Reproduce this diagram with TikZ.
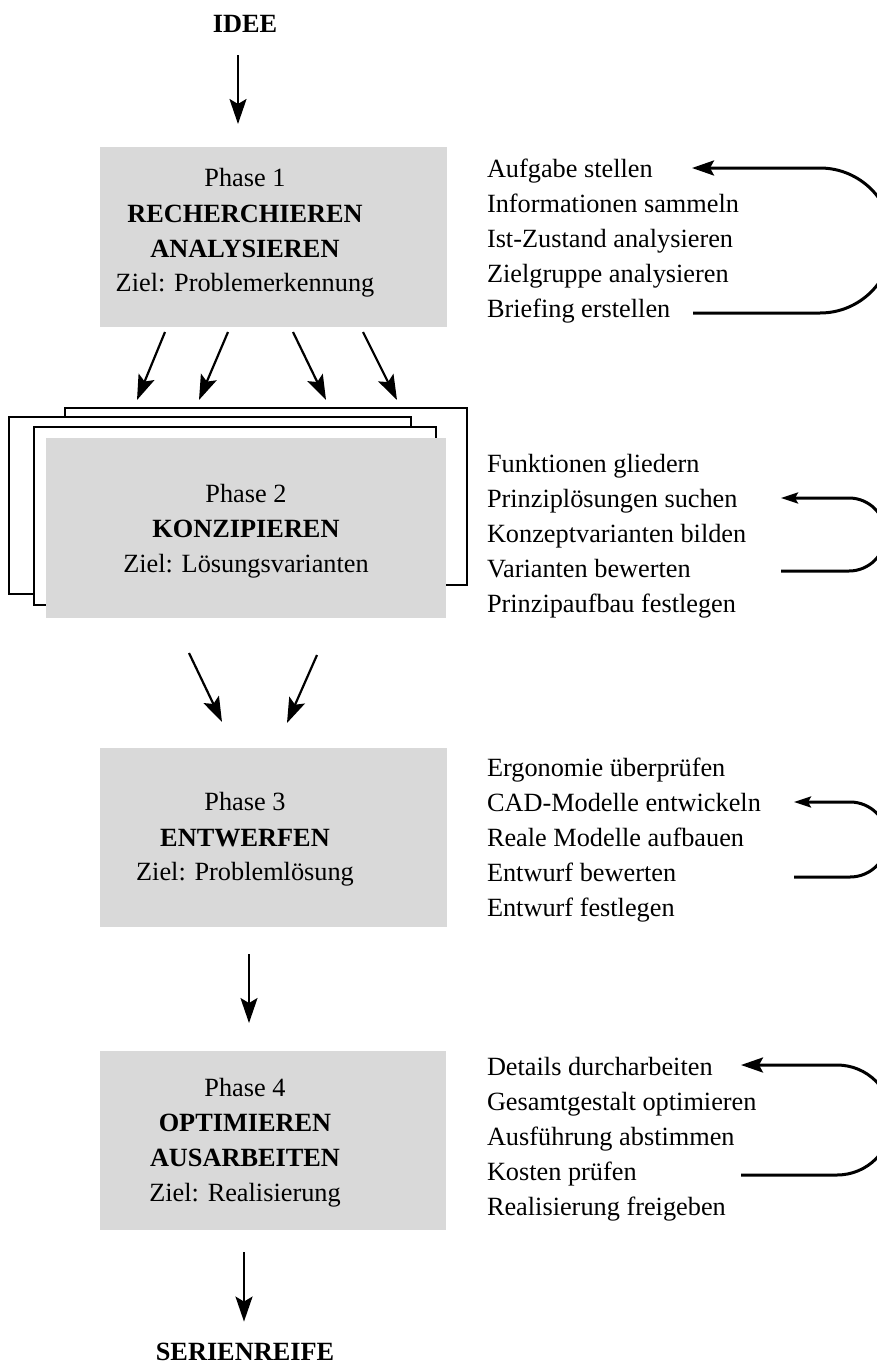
\documentclass[tikz,border=0pt]{standalone}
\usepackage{fontspec}
\setmainfont{Liberation Serif}
\usetikzlibrary{arrows.meta,calc}
\definecolor{boxgray}{RGB}{217,217,217}

\begin{document}
\begin{tikzpicture}[x=1pt,y=-1pt,
  every node/.style={inner sep=0pt, outer sep=0pt},
  txt/.style={anchor=base, font=\fontsize{26.3}{35}\selectfont},
  ttl/.style={anchor=base, font=\fontsize{26.3}{35}\selectfont\bfseries},
  item/.style={anchor=base west, font=\fontsize{26.3}{35}\selectfont},
  phasebox/.style={fill=boxgray, minimum width=347pt, minimum height=180pt},
  sheet/.style={draw, fill=white, line width=2pt, minimum width=402pt, minimum height=177pt},
  flow/.style={line width=2.2pt, -{Stealth[length=25pt,width=17pt,inset=5pt]}},
  loopbig/.style={line width=3pt, -{Stealth[length=22pt,width=15pt,inset=4pt]}},
  loopsmall/.style={line width=3pt, -{Stealth[length=17pt,width=11pt,inset=3pt]}},
]
\clip (0,0) rectangle (877,1365);

% start and end labels
\node[ttl] (idee) at (245,32) {IDEE};
\node[ttl] (serie) at (245,1360) {SERIENREIFE};

% phase 1
\node[phasebox] (box1) at (273.5,237) {};
\node[txt] (p1a) at (245,186) {Phase 1};
\node[ttl] (p1b) at (245,222) {RECHERCHIEREN};
\node[ttl] (p1c) at (245,257) {ANALYSIEREN};
\node[txt] (p1d) at (245,291) {Ziel: Problemerkennung};

% phase 2: stack of sheets behind the grey box
\node[sheet] (sheetA) at (266,496.5) {};
\node[sheet] (sheetB) at (210,505.5) {};
\node[sheet, minimum height=178pt] (sheetC) at (234.5,516) {};
\node[phasebox, minimum width=400pt] (box2) at (246,528) {};
\node[txt] (p2a) at (246,502) {Phase 2};
\node[ttl] (p2b) at (246,537) {KONZIPIEREN};
\node[txt] (p2c) at (246,572) {Ziel: Lösungsvarianten};

% phase 3
\node[phasebox, minimum height=179pt] (box3) at (273.5,837.5) {};
\node[txt] (p3a) at (245,810) {Phase 3};
\node[ttl] (p3b) at (245,846) {ENTWERFEN};
\node[txt] (p3c) at (245,880) {Ziel: Problemlösung};

% phase 4
\node[phasebox, minimum width=346pt, minimum height=179pt] (box4) at (273,1140.5) {};
\node[txt] (p4a) at (245,1096) {Phase 4};
\node[ttl] (p4b) at (245,1131) {OPTIMIEREN};
\node[ttl] (p4c) at (245,1166) {AUSARBEITEN};
\node[txt] (p4d) at (245,1201) {Ziel: Realisierung};

% task lists
\node[item] (l1a) at (487,177) {Aufgabe stellen};
\node[item] (l1b) at (487,212) {Informationen sammeln};
\node[item] (l1c) at (487,247) {Ist-Zustand analysieren};
\node[item] (l1d) at (487,282) {Zielgruppe analysieren};
\node[item] (l1e) at (487,317) {Briefing erstellen};

\node[item] (l2a) at (487,472) {Funktionen gliedern};
\node[item] (l2b) at (487,507) {Prinziplösungen suchen};
\node[item] (l2c) at (487,542) {Konzeptvarianten bilden};
\node[item] (l2d) at (487,577) {Varianten bewerten};
\node[item] (l2e) at (487,612) {Prinzipaufbau festlegen};

\node[item] (l3a) at (487,776) {Ergonomie überprüfen};
\node[item] (l3b) at (487,811) {CAD-Modelle entwickeln};
\node[item] (l3c) at (487,846) {Reale Modelle aufbauen};
\node[item] (l3d) at (487,881) {Entwurf bewerten};
\node[item] (l3e) at (487,916) {Entwurf festlegen};

\node[item] (l4a) at (487,1075) {Details durcharbeiten};
\node[item] (l4b) at (487,1110) {Gesamtgestalt optimieren};
\node[item] (l4c) at (487,1145) {Ausführung abstimmen};
\node[item] (l4d) at (487,1180) {Kosten prüfen};
\node[item] (l4e) at (487,1215) {Realisierung freigeben};

% main flow
\draw[flow] ($(idee.south)+(-7,23)$) -- ($(box1.north)+(-35.5,-23)$);
\draw[flow] ($(box1.south)+(-108.5,5)$) -- ($(box2.north)+(-109,-38)$);
\draw[flow] ($(box1.south)+(-45.5,5)$) -- ($(box2.north)+(-47,-38)$);
\draw[flow] ($(box1.south)+(19.5,5)$) -- ($(box2.north)+(80,-38)$);
\draw[flow] ($(box1.south)+(89.5,5)$) -- ($(box2.north)+(151,-38)$);
\draw[flow] ($(box2.south)+(-57,35)$) -- ($(box3.north)+(-51.5,-26)$);
\draw[flow] ($(box2.south)+(71,37)$) -- ($(box3.north)+(13.5,-25)$);
\draw[flow] ($(box3.south)+(-24.5,27)$) -- ($(box4.north)+(-24,-28)$);
\draw[flow] ($(box4.south)+(-29,22)$) -- ($(serie.north)+(-1,-21)$);

% feedback loops beside the lists
\coordinate (f1s) at (693,313);  \coordinate (f1t) at (692,168);
\coordinate (f2s) at (781,571);  \coordinate (f2t) at (781,498);
\coordinate (f3s) at (794,877);  \coordinate (f3t) at (794,802);
\coordinate (f4s) at (741,1175); \coordinate (f4t) at (741,1065);
\draw[loopbig] (f1s) -- ++(127,0) arc[start angle=-90, end angle=90, radius=72.5pt] -- (f1t);
\draw[loopsmall] (f2s) -- ++(68,0) arc[start angle=-90, end angle=90, radius=36.5pt] -- (f2t);
\draw[loopsmall] (f3s) -- ++(56,0) arc[start angle=-90, end angle=90, radius=37.5pt] -- (f3t);
\draw[loopbig] (f4s) -- ++(96,0) arc[start angle=-90, end angle=90, radius=55pt] -- (f4t);
\end{tikzpicture}
\end{document}
